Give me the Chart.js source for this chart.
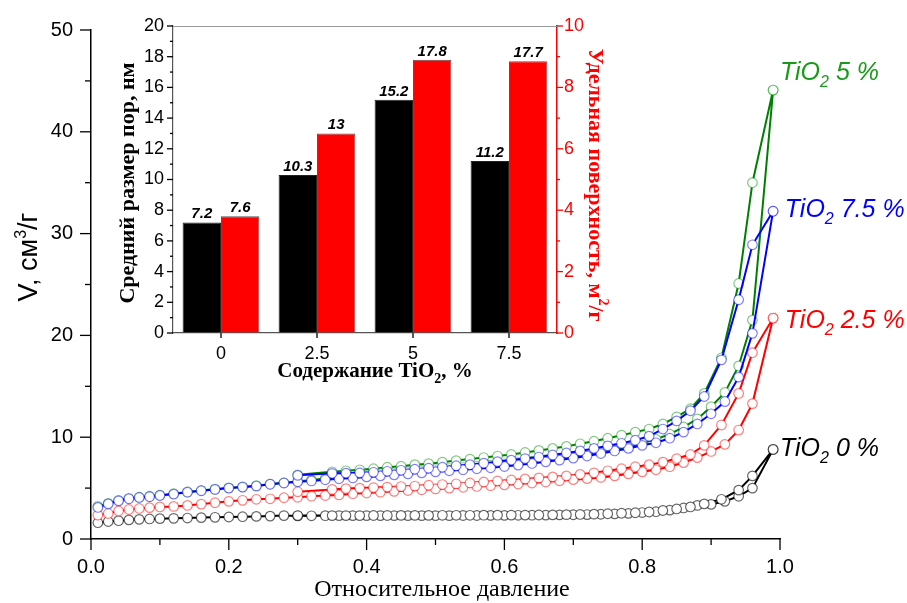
<!DOCTYPE html>
<html>
<head>
<meta charset="utf-8">
<script src="https://cdn.jsdelivr.net/npm/chart.js@4.4.1/dist/chart.umd.min.js"></script>
<style>
html, body { margin: 0; padding: 0; background: #fff; }
#wrap { position: relative; width: 907px; height: 603px; }
#wrap canvas { position: absolute; left: 0; top: 0; }
</style>
</head>
<body>
<div id="wrap">
  <canvas id="mainChart" width="907" height="603"></canvas>
  <canvas id="insetChart" width="907" height="603"></canvas>
</div>
<script>
// --- isotherm data: relative pressure p/p0 and adsorbed volume, cm3/g ---
const adsP = [0.01,0.025,0.04,0.055,0.07,0.085,0.10,0.12,0.14,0.16,0.18,0.20,0.22,0.24,0.26,0.28,0.30,0.32,0.34,0.36,0.38,0.40,0.42,0.44,0.46,0.48,0.50,0.52,0.54,0.56,0.58,0.60,0.62,0.64,0.66,0.68,0.70,0.72,0.74,0.76,0.78,0.80,0.82,0.84,0.86,0.88,0.90,0.92,0.94,0.96,0.99];
const desP = [0.99,0.96,0.94,0.915,0.89,0.87,0.85,0.83,0.81,0.79,0.77,0.75,0.73,0.71,0.69,0.67,0.65,0.63,0.61,0.59,0.57,0.55,0.53,0.51,0.49,0.47,0.45,0.43,0.41,0.39,0.37,0.35,0.30];

const ads0 = [1.6,1.72,1.8,1.88,1.93,1.97,2.0,2.03,2.06,2.1,2.13,2.16,2.19,2.22,2.25,2.3,2.27,2.28,2.29,2.3,2.3,2.3,2.3,2.3,2.3,2.3,2.3,2.3,2.31,2.31,2.32,2.32,2.33,2.34,2.35,2.37,2.38,2.4,2.43,2.47,2.52,2.6,2.68,2.84,3.05,3.3,3.4,3.7,4.2,5.0,8.8];
const des0 = [8.8,6.2,4.8,3.9,3.45,3.15,2.95,2.8,2.65,2.58,2.53,2.48,2.44,2.41,2.39,2.37,2.36,2.35,2.35,2.34,2.34,2.33,2.33,2.33,2.32,2.32,2.32,2.31,2.31,2.3,2.3,2.3,2.3];

const ads25 = [2.35,2.5,2.75,2.9,3.0,3.08,3.15,3.2,3.3,3.43,3.56,3.7,3.8,3.9,3.95,4.05,4.1,4.2,4.27,4.33,4.45,4.52,4.6,4.68,4.76,4.84,4.92,5.0,5.08,5.16,5.24,5.32,5.4,5.5,5.6,5.72,5.83,5.93,6.05,6.2,6.4,6.6,6.8,7.1,7.5,8.0,8.6,9.3,10.7,13.3,21.7];
const des25 = [21.7,18.3,14.3,11.2,9.2,8.3,7.9,7.55,7.3,7.1,6.9,6.7,6.5,6.35,6.2,6.1,6.0,5.9,5.8,5.7,5.6,5.5,5.42,5.35,5.28,5.2,5.15,5.1,5.05,5.0,4.95,4.87,4.64];

const ads5 = [3.2,3.5,3.8,4.0,4.1,4.2,4.3,4.45,4.62,4.76,4.9,5.02,5.12,5.24,5.4,5.52,5.65,5.8,5.95,6.08,6.2,6.3,6.42,6.52,6.62,6.72,6.82,6.92,7.02,7.12,7.25,7.38,7.5,7.65,7.8,7.95,8.1,8.3,8.5,8.75,9.0,9.4,9.8,10.3,11.0,11.8,13.0,14.4,17.0,21.5,44.1];
const des5 = [44.1,35.0,25.1,17.8,14.3,12.8,12.0,11.3,10.8,10.5,10.2,9.9,9.6,9.35,9.1,8.9,8.7,8.5,8.3,8.15,8.0,7.85,7.7,7.55,7.4,7.3,7.15,7.05,6.9,6.8,6.7,6.6,6.3];

const ads75 = [3.1,3.45,3.75,3.95,4.08,4.15,4.28,4.41,4.6,4.74,4.87,5.0,5.1,5.2,5.38,5.5,5.62,5.7,5.82,5.92,6.0,6.1,6.2,6.3,6.4,6.5,6.6,6.7,6.8,6.9,7.0,7.12,7.26,7.42,7.58,7.75,7.95,8.15,8.4,8.65,8.9,9.2,9.45,9.9,10.5,11.3,12.3,13.5,15.9,20.2,32.2];
const des75 = [32.2,28.9,23.5,17.6,14.0,12.6,11.6,10.8,10.1,9.7,9.4,9.15,8.9,8.65,8.45,8.25,8.05,7.9,7.75,7.6,7.45,7.3,7.2,7.05,6.95,6.85,6.75,6.65,6.55,6.5,6.47,6.45,6.25];

// --- inset bar data ---
const contents = ['0', '2.5', '5', '7.5'];
const poreSize = [7.2, 10.3, 15.2, 11.2];
const surfaceArea = [7.6, 13, 17.8, 17.7];

const SANS = '"Liberation Sans", Arial, sans-serif';
const SERIF = '"Liberation Serif", "Times New Roman", serif';
Chart.defaults.font.family = SANS;
Chart.defaults.color = '#000';

function isotherm(ads, des) {
    const a = adsP.map((p, i) => ({ x: p, y: ads[i] }));
    const d = desP.map((p, i) => ({ x: p, y: des[i] }));
    return a.concat(d);
}

function series(ads, des, line, mark, order) {
    return {
        data: isotherm(ads, des),
        showLine: true,
        borderColor: line,
        borderWidth: 2,
        pointRadius: 4.8,
        pointBorderWidth: 1.2,
        pointBorderColor: mark,
        pointBackgroundColor: '#fff',
        order: order
    };
}

// draws text pieces one after another (for sub/superscripts)
function richText(ctx, parts, x, y, align) {
    let w = 0;
    parts.forEach(p => { ctx.font = p.font; w += ctx.measureText(p.t).width; });
    let cx = align === 'center' ? x - w / 2 : x;
    parts.forEach(p => {
        ctx.font = p.font;
        ctx.fillText(p.t, cx, y + (p.dy || 0));
        cx += ctx.measureText(p.t).width;
    });
}

function drawTicks(ctx, scale, values, len, side, color) {
    ctx.save();
    ctx.strokeStyle = color;
    ctx.lineWidth = 1.3;
    values.forEach(v => {
        const p = scale.getPixelForValue(v);
        ctx.beginPath();
        if (side === 'left') { ctx.moveTo(scale.right, p); ctx.lineTo(scale.right - len, p); }
        else if (side === 'right') { ctx.moveTo(scale.left, p); ctx.lineTo(scale.left + len, p); }
        else { ctx.moveTo(p, scale.top); ctx.lineTo(p, scale.top + len); }
        ctx.stroke();
    });
    ctx.restore();
}

function majorsMinors(scale) {
    const maj = scale.ticks.map(t => t.value);
    const min = [];
    for (let i = 0; i < maj.length - 1; i++) min.push((maj[i] + maj[i + 1]) / 2);
    return [maj, min];
}

const labelItems = [
    { num: '5 %', color: '#1a9a1a', p: 1.0, v: 45.1 },
    { num: '7.5 %', color: '#0000ff', p: 1.007, v: 31.6 },
    { num: '2.5 %', color: '#ff0000', p: 1.007, v: 20.7 },
    { num: '0 %', color: '#000', p: 1.0, v: 8.2 }
];

const mainDecor = {
    id: 'mainDecor',
    afterDraw(chart) {
        const ctx = chart.ctx;
        const xs = chart.scales.x, ys = chart.scales.y;
        let [mj, mn] = majorsMinors(xs);
        drawTicks(ctx, xs, mj, 11, 'bottom', '#000');
        drawTicks(ctx, xs, mn, 6, 'bottom', '#000');
        [mj, mn] = majorsMinors(ys);
        drawTicks(ctx, ys, mj, 11, 'left', '#000');
        drawTicks(ctx, ys, mn, 6, 'left', '#000');

        ctx.save();
        ctx.textBaseline = 'alphabetic';
        // axis titles
        ctx.fillStyle = '#000';
        ctx.textAlign = 'left';
        richText(ctx, [{ t: 'Относительное давление', font: '24px ' + SERIF }], 442, 596, 'center');
        ctx.translate(37, 257);
        ctx.rotate(-Math.PI / 2);
        richText(ctx, [
            { t: 'V, см', font: '27px ' + SANS },
            { t: '3', font: '16px ' + SANS, dy: -11 },
            { t: '/г', font: '27px ' + SANS }
        ], 0, 0, 'center');
        ctx.restore();

        // sample labels
        ctx.save();
        ctx.textAlign = 'left';
        labelItems.forEach(l => {
            ctx.fillStyle = l.color;
            richText(ctx, [
                { t: 'TiO', font: 'italic 25px ' + SANS },
                { t: '2', font: 'italic 16px ' + SANS, dy: 7 },
                { t: ' ' + l.num, font: 'italic 25px ' + SANS }
            ], xs.getPixelForValue(l.p), ys.getPixelForValue(l.v), 'left');
        });
        ctx.restore();
    }
};

new Chart(document.getElementById('mainChart'), {
    type: 'scatter',
    data: {
        datasets: [
            series(ads0, des0, '#000000', 'rgba(0,0,0,0.6)', 4),
            series(ads25, des25, '#ff0000', 'rgba(255,0,0,0.5)', 3),
            series(ads5, des5, '#008000', 'rgba(0,150,0,0.5)', 2),
            series(ads75, des75, '#0000ff', 'rgba(0,0,255,0.5)', 1)
        ]
    },
    options: {
        responsive: false,
        animation: false,
        layout: { padding: { top: 26, right: 127, left: 0, bottom: 0 } },
        plugins: { legend: { display: false }, tooltip: { enabled: false } },
        scales: {
            x: {
                type: 'linear', min: 0, max: 1,
                afterFit(s) { s.height = 64; },
                grid: { drawOnChartArea: false, drawTicks: false },
                border: { color: '#000', width: 1.5 },
                ticks: { stepSize: 0.2, padding: 16, font: { size: 20 }, color: '#000', maxRotation: 0,
                         callback: v => v.toFixed(1) }
            },
            y: {
                min: 0, max: 50,
                afterFit(s) { s.width = 91; },
                grid: { drawOnChartArea: false, drawTicks: false },
                border: { color: '#000', width: 1.5 },
                ticks: { stepSize: 10, padding: 18, font: { size: 20 }, color: '#000' }
            }
        }
    },
    plugins: [mainDecor]
});

// --- inset bar chart ---
const insetDecor = {
    id: 'insetDecor',
    afterDraw(chart) {
        const ctx = chart.ctx;
        const a = chart.chartArea;
        const ys = chart.scales.y, y2 = chart.scales.y2, xs = chart.scales.x;

        ctx.save();
        ctx.strokeStyle = '#999';
        ctx.lineWidth = 1;
        ctx.beginPath();
        ctx.moveTo(a.left, a.top + 0.5);
        ctx.lineTo(a.right, a.top + 0.5);
        ctx.stroke();
        ctx.restore();

        let [mj, mn] = majorsMinors(ys);
        drawTicks(ctx, ys, mj, 6, 'left', '#000');
        drawTicks(ctx, ys, mn, 3, 'left', '#000');
        [mj, mn] = majorsMinors(y2);
        drawTicks(ctx, y2, mj, 6, 'right', '#ff0000');
        drawTicks(ctx, y2, mn, 3, 'right', '#ff0000');
        drawTicks(ctx, xs, contents.map((c, i) => i), 5, 'bottom', '#000');

        // value labels over bars
        ctx.save();
        ctx.fillStyle = '#000';
        ctx.textAlign = 'center';
        ctx.textBaseline = 'alphabetic';
        ctx.font = 'bold italic 15px ' + SANS;
        chart.data.datasets.forEach((ds, di) => {
            chart.getDatasetMeta(di).data.forEach((bar, i) => {
                ctx.fillText(String(ds.data[i]), bar.x, bar.y - 4);
            });
        });
        ctx.restore();

        // titles
        ctx.save();
        ctx.textBaseline = 'alphabetic';
        ctx.textAlign = 'left';
        ctx.fillStyle = '#000';
        richText(ctx, [
            { t: 'Содержание TiO', font: 'bold 21px ' + SERIF },
            { t: '2', font: 'bold 14px ' + SERIF, dy: 6 },
            { t: ', %', font: 'bold 21px ' + SERIF }
        ], 375, 377, 'center');
        ctx.restore();

        ctx.save();
        ctx.fillStyle = '#000';
        ctx.textAlign = 'left';
        ctx.textBaseline = 'middle';
        ctx.translate(128, 183);
        ctx.rotate(-Math.PI / 2);
        richText(ctx, [{ t: 'Средний размер пор, нм', font: 'bold 22px ' + SERIF }], 0, 0, 'center');
        ctx.restore();

        ctx.save();
        ctx.fillStyle = '#ff0000';
        ctx.textAlign = 'left';
        ctx.textBaseline = 'middle';
        ctx.translate(595, 185);
        ctx.rotate(Math.PI / 2);
        richText(ctx, [
            { t: 'Удельная поверхность, м', font: 'bold 22px ' + SERIF },
            { t: '2', font: 'bold 14px ' + SERIF, dy: -8 },
            { t: '/г', font: 'bold 22px ' + SERIF }
        ], 0, 0, 'center');
        ctx.restore();
    }
};

new Chart(document.getElementById('insetChart'), {
    type: 'bar',
    data: {
        labels: contents,
        datasets: [
            { data: poreSize, backgroundColor: '#000', borderColor: '#222', borderWidth: 1,
              categoryPercentage: 0.8, barPercentage: 1, yAxisID: 'y' },
            { data: surfaceArea, backgroundColor: '#ff0000', borderColor: '#555', borderWidth: 1,
              categoryPercentage: 0.8, barPercentage: 1, yAxisID: 'y' }
        ]
    },
    options: {
        responsive: false,
        animation: false,
        layout: { padding: { top: 26, right: 0, left: 0, bottom: 0 } },
        plugins: { legend: { display: false }, tooltip: { enabled: false } },
        scales: {
            x: {
                afterFit(s) { s.height = 270; },
                grid: { drawOnChartArea: false, drawTicks: false },
                border: { color: '#555', width: 1.2 },
                ticks: { padding: 10, font: { size: 18 }, color: '#000' }
            },
            y: {
                position: 'left', min: 0, max: 20,
                afterFit(s) { s.width = 173; },
                grid: { drawOnChartArea: false, drawTicks: false },
                border: { color: '#555', width: 1.2 },
                ticks: { stepSize: 2, padding: 9, font: { size: 18 }, color: '#000' }
            },
            y2: {
                position: 'right', min: 0, max: 10,
                afterFit(s) { s.width = 350; },
                grid: { drawOnChartArea: false, drawTicks: false },
                border: { color: '#ff0000', width: 1.5 },
                ticks: { stepSize: 2, padding: 7, font: { size: 18 }, color: '#ff0000' }
            }
        }
    },
    plugins: [insetDecor]
});
</script>
</body>
</html>
